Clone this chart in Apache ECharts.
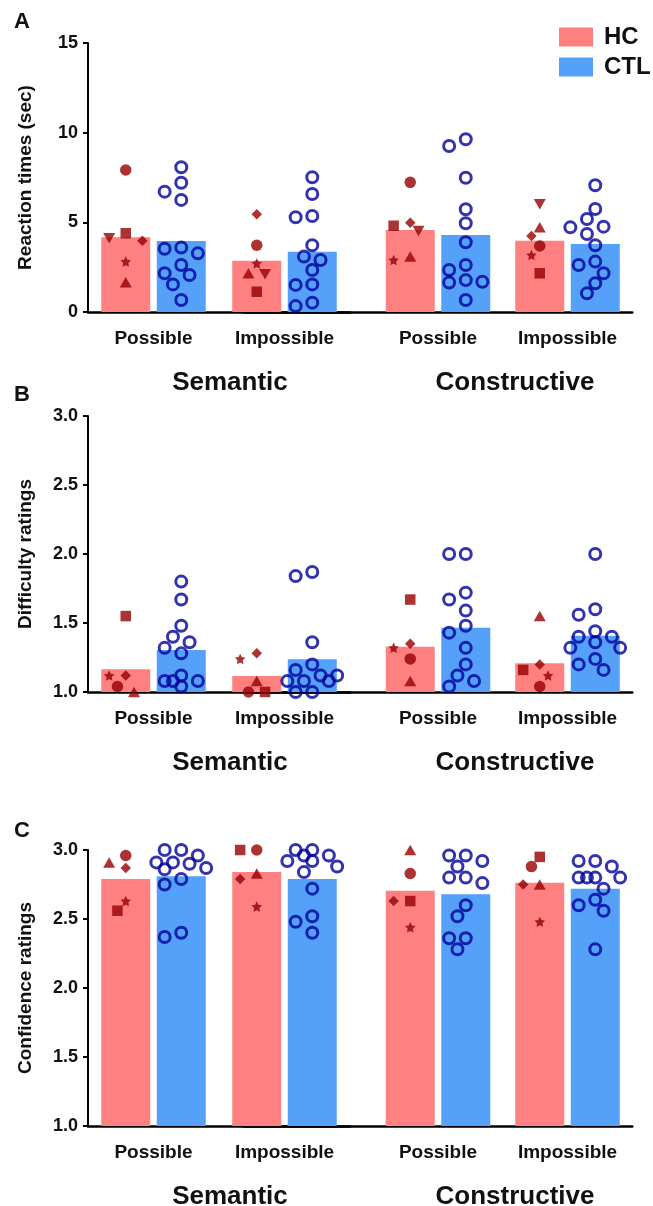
<!DOCTYPE html>
<html>
<head>
<meta charset="utf-8">
<script src="https://cdn.jsdelivr.net/npm/echarts@6/dist/echarts.min.js"></script>
<style>html,body{margin:0;padding:0;background:#fff}#c{width:653px;height:1206px}</style>
</head>
<body>
<div id="c"></div>
<script>
// ---------------- DATA ----------------
const conditions = ['Possible', 'Impossible'];
const taskGroups = ['Semantic', 'Constructive'];
const panelLetters = ['A', 'B', 'C'];
const yNames = ['Reaction times (sec)', 'Difficulty ratings', 'Confidence ratings'];
const yMins = [0, 1, 1];
const yMaxs = [15, 3, 3];
const yIntervals = [5, 0.5, 0.5];

// column order: Semantic-Possible, Semantic-Impossible, Constructive-Possible, Constructive-Impossible
const hcMeanRT   = [4.17, 2.86, 4.57, 3.98];
const ctlMeanRT  = [3.96, 3.36, 4.29, 3.79];
const hcMeanDiff = [1.164, 1.116, 1.328, 1.208];
const ctlMeanDiff= [1.304, 1.237, 1.466, 1.408];
const hcMeanConf = [2.79, 2.84, 2.705, 2.763];
const ctlMeanConf= [2.81, 2.79, 2.68, 2.72];

// HC participants (one marker shape each): circle, square, triangle, inverted triangle, diamond, star
const hcShapes = ['circle', 'square', 'triangle', 'invTriangle', 'diamond', 'star'];
const hcRT = [
  [7.92, 3.72, 7.23, 3.68],
  [4.39, 1.13, 4.81, 2.16],
  [1.66, 2.16, 3.09, 4.72],
  [4.11, 2.10, 4.52, 6.01],
  [3.98, 5.45, 4.98, 4.24],
  [2.81, 2.71, 2.90, 3.18]
];
const hcDiff = [
  [1.04, 1.00, 1.24, 1.04],
  [1.55, 1.00, 1.67, 1.16],
  [1.00, 1.08, 1.08, 1.55],
  [null, null, null, null],
  [1.12, 1.28, 1.35, 1.20],
  [1.12, 1.24, 1.32, 1.12]
];
const hcConf = [
  [2.96, 3.00, 2.83, 2.88],
  [2.56, 3.00, 2.63, 2.95],
  [2.91, 2.83, 3.00, 2.75],
  [null, null, null, null],
  [2.87, 2.79, 2.63, 2.75],
  [2.63, 2.59, 2.44, 2.48]
];

// CTL participants (12 per condition)
const ctlRT = [
  [8.07, 7.21, 6.71, 6.25, 3.59, 3.53, 3.27, 2.62, 2.16, 2.06, 1.54, 0.67],
  [7.51, 6.58, 5.35, 5.28, 3.72, 3.09, 2.90, 2.34, 1.54, 1.51, 0.52, 0.33],
  [9.63, 9.26, 7.49, 5.73, 4.95, 3.89, 2.62, 2.34, 1.78, 1.69, 1.64, 0.67],
  [7.07, 5.74, 5.19, 4.76, 4.72, 4.35, 3.72, 2.81, 2.62, 2.16, 1.60, 1.04]
];
const ctlDiff = [
  [1.80, 1.67, 1.48, 1.40, 1.36, 1.32, 1.28, 1.12, 1.08, 1.08, 1.08, 1.04],
  [1.87, 1.84, 1.36, 1.20, 1.16, 1.12, 1.12, 1.08, 1.08, 1.08, 1.00, 1.00],
  [2.00, 2.00, 1.72, 1.67, 1.59, 1.48, 1.43, 1.32, 1.20, 1.12, 1.08, 1.04],
  [2.00, 1.60, 1.56, 1.44, 1.40, 1.40, 1.36, 1.32, 1.32, 1.24, 1.20, 1.16]
];
const ctlConf = [
  [3.00, 3.00, 2.96, 2.91, 2.91, 2.90, 2.87, 2.86, 2.79, 2.75, 2.40, 2.37],
  [3.00, 3.00, 2.96, 2.96, 2.92, 2.92, 2.88, 2.84, 2.72, 2.52, 2.48, 2.40],
  [2.96, 2.96, 2.92, 2.88, 2.80, 2.80, 2.76, 2.60, 2.52, 2.36, 2.36, 2.28],
  [2.92, 2.92, 2.88, 2.80, 2.80, 2.80, 2.80, 2.72, 2.64, 2.60, 2.56, 2.28]
];

// ---------------- STYLE / LAYOUT ----------------
const FONT = '"Liberation Sans", Arial, Helvetica, sans-serif';
const HC_BAR = '#fe8080';
const CTL_BAR = '#55a0f8';
const HC_MARK = '#960000';
const CTL_MARK = '#00009c';
const L = {
  gridLeft: [88, 243.75], gridWidth: [262, 388.5],
  top: [43, 416, 850], height: [269, 276, 276],
  barW: 49, barGapPx: 6.5,
  groupLabelX: [230, 515], groupLabelDy: 71,
  letterY: [22, 395, 831]
};
const halfPair = (L.barW + L.barGapPx) / 2;
const STAR = 'path://M0,-10L2.94,-4.05L9.51,-3.09L4.76,1.55L5.88,8.09L0,5.26L-5.88,8.09L-4.76,1.55L-9.51,-3.09L-2.94,-4.05Z';
const INVTRI = 'path://M0,0L10,0L5,9Z';
const shapeStyle = {
  circle: { symbol: 'circle', size: 11.5 },
  square: { symbol: 'rect', size: 10.5 },
  triangle: { symbol: 'triangle', size: [12, 10.5] },
  invTriangle: { symbol: INVTRI, size: [12, 10.5] },
  diamond: { symbol: 'diamond', size: 10.5 },
  star: { symbol: STAR, size: 10.5 }
};

const panels = [
  { hcMean: hcMeanRT, ctlMean: ctlMeanRT, hc: hcRT, ctl: ctlRT },
  { hcMean: hcMeanDiff, ctlMean: ctlMeanDiff, hc: hcDiff, ctl: ctlDiff },
  { hcMean: hcMeanConf, ctlMean: ctlMeanConf, hc: hcConf, ctl: ctlConf }
];

const grids = [], xAxes = [], yAxes = [], series = [], graphics = [];
const swarmMeta = [];

for (let p = 0; p < 3; p++) {
  const P = panels[p];
  for (let g = 0; g < 2; g++) {
    const gi = p * 2 + g;
    const pad = g === 0 ? [] : [null];
    const cats = g === 0 ? conditions.slice() : [''].concat(conditions);
    grids.push({ left: L.gridLeft[g], width: L.gridWidth[g], top: L.top[p], height: L.height[p] });
    xAxes.push({
      gridIndex: gi, type: 'category', data: cats,
      axisLine: { lineStyle: { color: '#000', width: 2.5 } },
      axisTick: { show: false },
      axisLabel: { margin: 17, fontSize: 19, fontWeight: 'bold', color: '#111', fontFamily: FONT, interval: 0 }
    });
    yAxes.push({
      gridIndex: gi, type: 'value', min: yMins[p], max: yMaxs[p], interval: yIntervals[p],
      show: g === 0,
      splitLine: { show: false },
      axisLine: { show: true, lineStyle: { color: '#000', width: 2 } },
      axisTick: { show: true, length: 5, lineStyle: { color: '#000', width: 2 } },
      axisLabel: {
        margin: 10, fontSize: 18, fontWeight: 'bold', color: '#111', fontFamily: FONT,
        formatter: v => p === 0 ? String(v) : v.toFixed(1)
      },
      name: g === 0 ? yNames[p] : '', nameLocation: 'middle', nameGap: 53,
      nameTextStyle: { fontSize: 19, fontWeight: 'bold', color: '#111', fontFamily: FONT }
    });
    series.push({
      type: 'bar', name: 'HC', xAxisIndex: gi, yAxisIndex: gi, clip: true,
      data: pad.concat([P.hcMean[2 * g], P.hcMean[2 * g + 1]]),
      barWidth: L.barW, barGap: (L.barGapPx / L.barW * 100).toFixed(1) + '%',
      itemStyle: { color: HC_BAR }, silent: true
    });
    series.push({
      type: 'bar', name: 'CTL', xAxisIndex: gi, yAxisIndex: gi, clip: true,
      data: pad.concat([P.ctlMean[2 * g], P.ctlMean[2 * g + 1]]),
      barWidth: L.barW,
      itemStyle: { color: CTL_BAR }, silent: true
    });
    const hcItems = [];
    const ctlItems = [];
    for (let c = 0; c < 2; c++) {
      const col = 2 * g + c;
      const cat = pad.length + c;
      P.hc.forEach((row, s) => {
        if (row[col] != null) hcItems.push({ cat, v: row[col], shape: hcShapes[s] });
      });
      P.ctl[col].forEach(v => ctlItems.push({ cat, v }));
    }
    const hcId = 'hc' + gi, ctlId = 'ctl' + gi;
    swarmMeta.push({ id: hcId, gi, items: hcItems, base: -halfPair, kind: 'hc' });
    swarmMeta.push({ id: ctlId, gi, items: ctlItems, base: halfPair, kind: 'ctl' });
    series.push({
      id: hcId, type: 'scatter', name: 'HC points', xAxisIndex: gi, yAxisIndex: gi, clip: false, z: 5,
      itemStyle: { color: HC_MARK }, silent: true,
      data: hcItems.map(it => ({ value: [it.cat, it.v], symbol: shapeStyle[it.shape].symbol, symbolSize: shapeStyle[it.shape].size, symbolOffset: [-halfPair, 0] }))
    });
    series.push({
      id: ctlId, type: 'scatter', name: 'CTL points', xAxisIndex: gi, yAxisIndex: gi, clip: false, z: 5,
      symbol: 'circle', symbolSize: 11, silent: true,
      itemStyle: { color: 'rgba(0,0,0,0)', borderColor: CTL_MARK, borderWidth: 3 },
      data: ctlItems.map(it => ({ value: [it.cat, it.v], symbolOffset: [halfPair, 0] }))
    });
  }
  graphics.push({
    type: 'text', x: 22, y: L.letterY[p],
    style: { text: panelLetters[p], font: 'bold 22px ' + FONT, fill: '#111', align: 'center', verticalAlign: 'middle' }
  });
  for (let g = 0; g < 2; g++) {
    graphics.push({
      type: 'text', x: L.groupLabelX[g], y: L.top[p] + L.height[p] + L.groupLabelDy,
      style: { text: taskGroups[g], font: 'bold 26px ' + FONT, fill: '#111', align: 'center', verticalAlign: 'middle' }
    });
  }
}

const chart = echarts.init(document.getElementById('c'), null, { renderer: 'canvas' });
chart.setOption({
  animation: false,
  backgroundColor: '#fff',
  grid: grids, xAxis: xAxes, yAxis: yAxes, series: series,
  legend: {
    data: ['HC', 'CTL'], orient: 'vertical', left: 554, top: 20,
    itemWidth: 34, itemHeight: 19, itemGap: 6, icon: 'rect', selectedMode: false,
    textStyle: { fontSize: 24, fontWeight: 'bold', fontFamily: FONT, color: '#111', padding: [0, 0, 0, 6] }
  },
  graphic: graphics
});

// beeswarm-style horizontal spreading of points, derived from their pixel positions
function swarm(ys, step, minDist, maxK) {
  const order = ys.map((y, i) => i).sort((a, b) => ys[a] - ys[b]);
  const placed = [];
  const out = new Array(ys.length).fill(0);
  const cand = [0];
  for (let k = 1; k <= maxK; k++) cand.push(-k, k);
  order.forEach(i => {
    let chosen = null, bestD = -1, bestDx = 0;
    for (const k of cand) {
      const dx = k * step;
      let m = Infinity;
      placed.forEach(q => { m = Math.min(m, Math.hypot(dx - q.dx, ys[i] - q.y)); });
      if (m >= minDist) { chosen = dx; break; }
      if (m > bestD) { bestD = m; bestDx = dx; }
    }
    if (chosen === null) chosen = bestDx;
    out[i] = chosen;
    placed.push({ dx: chosen, y: ys[i] });
  });
  return out;
}

const updates = [];
swarmMeta.forEach(meta => {
  const offs = new Array(meta.items.length).fill(0);
  const cats = [...new Set(meta.items.map(it => it.cat))];
  cats.forEach(cat => {
    const idx = meta.items.map((it, i) => i).filter(i => meta.items[i].cat === cat);
    const ys = idx.map(i => chart.convertToPixel({ gridIndex: meta.gi }, [cat, meta.items[i].v])[1]);
    const o = meta.kind === 'hc' ? swarm(ys, 8.3, 11.5, 3) : swarm(ys, 8.3, 12.5, 3);
    idx.forEach((i, j) => { offs[i] = o[j]; });
  });
  const data = meta.items.map((it, i) => {
    const d = { value: [it.cat, it.v], symbolOffset: [meta.base + offs[i], 0] };
    if (meta.kind === 'hc') { d.symbol = shapeStyle[it.shape].symbol; d.symbolSize = shapeStyle[it.shape].size; }
    return d;
  });
  updates.push({ id: meta.id, data });
});
chart.setOption({ series: updates });
</script>
</body>
</html>
